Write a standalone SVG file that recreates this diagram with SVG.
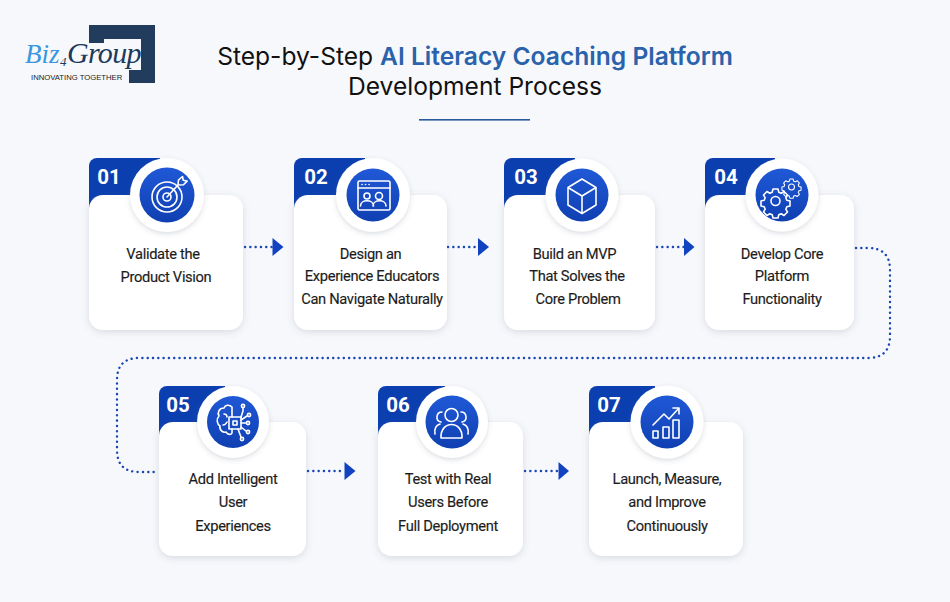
<svg xmlns="http://www.w3.org/2000/svg" width="950" height="602" viewBox="0 0 950 602">
<style>
.title{font-family:"Inter","Liberation Sans",sans-serif;font-size:24.6px;font-weight:400;fill:#111;text-anchor:middle}
.hl{fill:#2a62ab;font-weight:600}
.lab{font-family:"Roboto","Liberation Sans",sans-serif;font-size:14.7px;font-weight:400;fill:#1c1c1c;text-anchor:middle;letter-spacing:-.34px;stroke:#1c1c1c;stroke-width:.15px}
.num{font-family:"Roboto","Liberation Sans",sans-serif;font-size:20.500px;font-weight:700;fill:#fff;text-anchor:middle}
.tab{fill:#0b3fb0}
.card{fill:#fff;filter:url(#sh)}
.halo{fill:#fff;filter:url(#sh2)}
.disc{fill:url(#bl)}
.ic{fill:none;stroke:#fff;stroke-width:1.6;stroke-linecap:round;stroke-linejoin:round}
.dot{fill:none;stroke:#1a46b8;stroke-width:2.400;stroke-linecap:round;stroke-dasharray:.1 5.2}
.head{fill:#1143c0}
</style>
<defs>
<linearGradient id="bl" x1="0" y1="0" x2="0" y2="1"><stop offset="0" stop-color="#2058d6"/><stop offset="1" stop-color="#0f40b2"/></linearGradient>
<filter id="sh" x="-15%" y="-15%" width="130%" height="130%"><feDropShadow dx="0" dy="2" stdDeviation="3.5" flood-color="#55607a" flood-opacity=".2"/></filter>
<filter id="sh2" x="-20%" y="-20%" width="140%" height="140%"><feDropShadow dx="0" dy="2" stdDeviation="2.5" flood-color="#55607a" flood-opacity=".22"/></filter>
<g id="gear"><circle r="4.500" class="ic"/><path class="ic" d="M-2.500-12h5l.8 3.200 2.400 1 2.800-1.700 3.500 3.500-1.700 2.800 1 2.400 3.200.8v5l-3.200.8-1 2.400 1.700 2.800-3.500 3.500-2.800-1.700-2.400 1-.8 3.200h-5l-.8-3.200-2.400-1-2.800 1.700-3.500-3.500 1.700-2.800-1-2.400-3.200-.8v-5l3.200-.8 1-2.400-1.700-2.800 3.500-3.500 2.800 1.700 2.400-1z"/></g>
</defs>
<rect width="950" height="602" fill="#f7f8fb"/>
<g id="logo">
<path d="M89 25H155V83H129V70H141V39H104V43H89z" fill="#213c5c"/>
<text x="25" y="63" font-family="Liberation Serif,serif" font-style="italic" font-size="27" fill="#3a96e0">Biz<tspan dx=".5" dy="3" font-size="13" fill="#1d3a5c">4</tspan><tspan dx=".5" dy="-3" font-size="30" letter-spacing="-.7" fill="#1d3a5c">Group</tspan></text>
<text x="31" y="80" font-family="Liberation Sans,sans-serif" font-size="7.700" fill="#222">INNOVATING TOGETHER</text>
</g>
<g id="heading">
<text class="title" x="475" y="65">Step-by-Step <tspan class="hl">AI Literacy Coaching Platform</tspan></text>
<text class="title" x="475" y="95">Development Process</text>
<rect x="419" y="119" width="111" height="1.600" fill="#2a5a9c"/>
</g>
<g id="connectors">
<path class="dot" d="M245 247H272"/><path class="head" d="M272.500 238 283.500 247 272.500 256z"/>
<path class="dot" d="M448 247H478"/><path class="head" d="M478 238 489 247 478 256z"/>
<path class="dot" d="M657 247H684"/><path class="head" d="M684 238 694.500 247 684 256z"/>
<path class="dot" d="M856 248H868Q890 248 890 270V336Q890 358 868 358H139Q117 358 117 380V450Q117 472 139 472H158"/>
<path class="dot" d="M308 471H344"/><path class="head" d="M344.500 462 355.500 471 344.500 480z"/>
<path class="dot" d="M525 471H558"/><path class="head" d="M558.500 462 569 471 558.500 480z"/>
</g>
<g id="step1">
<path class="tab" d="M89 240V166a8 8 0 0 1 8-8H160V240z"/><rect class="card" x="89" y="195" width="154" height="135" rx="14"/>
<text class="num" x="109" y="184">01</text><circle class="halo" cx="167" cy="195" r="37"/><circle class="disc" cx="167" cy="195" r="27.500"/>
<g class="ic" stroke-width="1.800"><circle cx="167" cy="197" r="15"/><circle cx="167" cy="197" r="10"/><circle cx="167" cy="197" r="4"/><path d="M167 197 178 185M178 185l.5-5 4-3.500 .8 3.800 3.800.8-3.600 3.600z"/></g>
<text class="lab"><tspan x="163" y="259">Validate the</tspan><tspan x="166" y="282">Product Vision</tspan></text>
</g>
<g id="step2">
<path class="tab" d="M294 240V166a8 8 0 0 1 8-8H365V240z"/><rect class="card" x="294" y="195" width="153" height="135" rx="14"/>
<text class="num" x="316" y="184">02</text><circle class="halo" cx="373" cy="195" r="37"/><circle class="disc" cx="373" cy="195" r="26.500"/>
<g class="ic"><rect x="358" y="181" width="32" height="29" rx="1.500"/><path d="M358 188H390M362 184.500h.1M365.500 184.500h.1M369 184.500h.1"/><circle cx="367" cy="196" r="3"/><circle cx="379" cy="196" r="3.500"/><path d="M360.500 206c0-7 13-7 13 0M373 206c0-7 13-7 13 0"/></g>
<text class="lab"><tspan x="370.500" y="259">Design an</tspan><tspan x="372" y="281">Experience Educators</tspan><tspan x="372" y="304">Can Navigate Naturally</tspan></text>
</g>
<g id="step3">
<path class="tab" d="M504 240V166a8 8 0 0 1 8-8H575V240z"/><rect class="card" x="504" y="195" width="151" height="135" rx="14"/>
<text class="num" x="526" y="184">03</text><circle class="halo" cx="582" cy="195" r="36.500"/><circle class="disc" cx="582" cy="195" r="26.500"/>
<g class="ic"><path d="M582 179 596 187.500V205L582 213.500 568 205V187.500zM568 187.500 582 196 596 187.500M582 196V213.500"/></g>
<text class="lab"><tspan x="574.500" y="259">Build an MVP</tspan><tspan x="577" y="281">That Solves the</tspan><tspan x="578" y="304">Core Problem</tspan></text>
</g>
<g id="step4">
<path class="tab" d="M705 240V166a8 8 0 0 1 8-8H775V240z"/><rect class="card" x="705" y="195" width="149" height="135" rx="14"/>
<text class="num" x="726" y="184">04</text><circle class="halo" cx="782" cy="195" r="36.500"/><circle class="disc" cx="782" cy="195" r="26.500"/>
<use href="#gear" transform="translate(775.500 201)"/><use href="#gear" transform="translate(791.500 187) scale(.66)"/>
<text class="lab"><tspan x="782" y="259">Develop Core</tspan><tspan x="782" y="281">Platform</tspan><tspan x="782" y="304">Functionality</tspan></text>
</g>
<g id="step5">
<path class="tab" d="M159 466V394a8 8 0 0 1 8-8H225V466z"/><rect class="card" x="159" y="422" width="147" height="134" rx="14"/>
<text class="num" x="178" y="412">05</text><circle class="halo" cx="233" cy="422" r="36"/><circle class="disc" cx="233" cy="422" r="26"/>
<g class="ic" stroke-width="1.300"><rect x="229" y="417" width="12" height="12"/><rect x="233" y="421" width="4" height="4"/><path d="M232 417V407c-3-3-7-2-8 1-5 0-7 5-5 8-3 3-2 8 1 10-1 4 3 7 6 6 2 3 5 3 6 1V429M224 414c2 0 3 1 3 3M223 425c2 0 3-1 4-3M241 417 243 411V408M241 423H246M241 420 247 416M241 427 246 431M238 429 241 437"/><circle cx="243" cy="406" r="1.600"/><circle cx="249" cy="415" r="1.600"/><circle cx="248" cy="423" r="1.600"/><circle cx="248" cy="432" r="1.600"/><circle cx="242" cy="439" r="1.600"/></g>
<text class="lab"><tspan x="233" y="484">Add Intelligent</tspan><tspan x="233" y="507">User</tspan><tspan x="233" y="531">Experiences</tspan></text>
</g>
<g id="step6">
<path class="tab" d="M378 466V394a8 8 0 0 1 8-8H445V466z"/><rect class="card" x="378" y="422" width="145" height="134" rx="14"/>
<text class="num" x="398" y="412">06</text><circle class="halo" cx="452" cy="422" r="36"/><circle class="disc" cx="452" cy="422" r="26.500"/>
<g class="ic"><circle cx="451.500" cy="415" r="6.500"/><path d="M441 438c-1-18 22-18 21 0zM442 412c-6 0-7 9-1 10M461 412c6 0 7 9 1 10M435 434c-1-6 2-9 5-10M468 434c1-6-2-9-5-10"/></g>
<text class="lab"><tspan x="448" y="484">Test with Real</tspan><tspan x="448" y="507">Users Before</tspan><tspan x="448" y="531">Full Deployment</tspan></text>
</g>
<g id="step7">
<path class="tab" d="M589 466V394a8 8 0 0 1 8-8H655V466z"/><rect class="card" x="589" y="422" width="154" height="134" rx="14"/>
<text class="num" x="609" y="412">07</text><circle class="halo" cx="667" cy="422" r="36.500"/><circle class="disc" cx="667" cy="422" r="26.500"/>
<g class="ic"><rect x="653" y="431" width="5" height="7"/><rect x="663" y="427" width="6" height="11"/><rect x="673" y="420" width="6" height="18"/><path d="M653 425 664 414 669 419 679 408M673 408H679V414"/></g>
<text class="lab"><tspan x="667" y="484">Launch, Measure,</tspan><tspan x="667" y="507">and Improve</tspan><tspan x="667" y="531">Continuously</tspan></text>
</g>
</svg>
